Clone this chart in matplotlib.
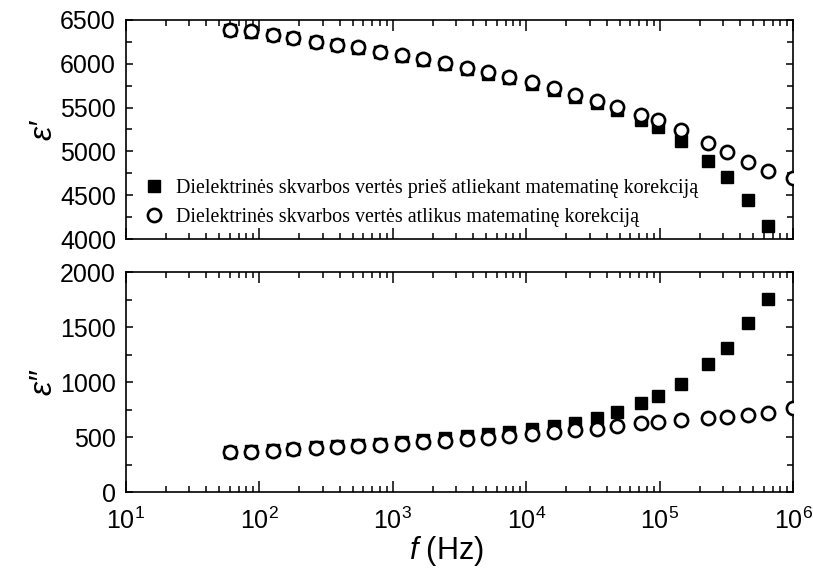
import matplotlib
matplotlib.use("Agg")
import matplotlib.pyplot as plt
from matplotlib.ticker import LogLocator, MultipleLocator, NullFormatter, LogFormatterSciNotation
import numpy as np

plt.rcParams['font.family'] = ['Liberation Sans', 'DejaVu Sans']
plt.rcParams['mathtext.fontset'] = 'custom'
plt.rcParams['mathtext.rm'] = 'Liberation Sans'
plt.rcParams['mathtext.it'] = 'Liberation Sans:italic'

# frequencies (Hz)
freq = [60, 87, 126, 180, 265, 384, 551, 809, 1170, 1680, 2470, 3580, 5140, 7400,
        11000, 16200, 23300, 34000, 48000, 72000, 97000, 143000, 228000, 318000,
        459000, 647000, 1000000]

# real part, corrected (circles)
eps1_corr = [6385, 6366, 6328, 6290, 6251, 6213, 6187, 6136, 6099, 6049, 6010, 5953,
             5900, 5851, 5792, 5717, 5648, 5575, 5506, 5419, 5353, 5239, 5093, 4990,
             4875, 4780, 4703]
# real part, before correction (squares)
eps1_raw = [6383, 6364, 6326, 6287, 6248, 6209, 6182, 6130, 6091, 6040, 5998, 5938,
            5882, 5832, 5770, 5695, 5620, 5556, 5468, 5361, 5277, 5124, 4894, 4714,
            4447, 4152]

# imaginary part, corrected (circles)
eps2_corr = [362, 367, 378, 392, 402, 410, 422, 428, 440, 453, 468, 483, 497, 512,
             534, 548, 570, 580, 603, 626, 640, 656, 671, 686, 701, 717, 762]
# imaginary part, before correction (squares)
eps2_raw = [366, 372, 384, 398, 410, 420, 434, 442, 458, 474, 492, 510, 528, 549,
            573, 604, 631, 671, 726, 808, 874, 989, 1162, 1313, 1535, 1755]

label_raw = "Dielektrinės skvarbos vertės prieš atliekant matematinę korekciją"
label_corr = "Dielektrinės skvarbos vertės atlikus matematinę korekciją"

W, H = 813, 574
fig = plt.figure(figsize=(W / 100, H / 100), dpi=100)

def fx(px):
    return px / W

def fy(py):
    return 1 - py / H

left, right = 125.7, 793.3
ax1 = fig.add_axes([fx(left), fy(239.3), fx(right - left), (239.3 - 19.7) / H])
ax2 = fig.add_axes([fx(left), fy(492.3), fx(right - left), (492.3 - 272.3) / H])

sq_kw = dict(marker='s', linestyle='none', color='black', markersize=9, zorder=2)
ci_kw = dict(marker='o', linestyle='none', markerfacecolor='white',
             markeredgecolor='black', markeredgewidth=1.9, markersize=9.5, zorder=3)

ax1.plot(freq[:len(eps1_raw)], eps1_raw, label=label_raw, **sq_kw)
ax1.plot(freq, eps1_corr, label=label_corr, **ci_kw)
ax2.plot(freq[:len(eps2_raw)], eps2_raw, **sq_kw)
ax2.plot(freq, eps2_corr, **ci_kw)

for ax in (ax1, ax2):
    ax.set_xscale('log')
    ax.set_xlim(10, 1e6)
    ax.xaxis.set_major_locator(LogLocator(base=10, numticks=10))
    ax.xaxis.set_minor_locator(LogLocator(base=10, subs=np.arange(2, 10), numticks=20))
    ax.xaxis.set_minor_formatter(NullFormatter())
    ax.tick_params(which='both', direction='in', top=True, right=True,
                   labelsize=18, width=1.1, color='black')
    ax.tick_params(axis='x', which='major', length=8)
    ax.tick_params(axis='x', which='minor', length=4.5)
    ax.tick_params(axis='y', which='major', length=5, pad=7)
    ax.tick_params(axis='y', which='minor', length=4.5)
    for s in ax.spines.values():
        s.set_linewidth(1.2)

ax1.set_ylim(4000, 6500)
ax1.yaxis.set_major_locator(MultipleLocator(500))
ax1.yaxis.set_minor_locator(MultipleLocator(250))
ax1.tick_params(axis='x', labelbottom=False)

ax2.set_ylim(0, 2000)
ax2.yaxis.set_major_locator(MultipleLocator(500))
ax2.yaxis.set_minor_locator(MultipleLocator(250))
ax2.xaxis.set_major_formatter(LogFormatterSciNotation())
ax2.tick_params(axis='x', pad=11)

fig.text(fx(446), fy(551), r"$f$ (Hz)", ha='center', va='center', fontsize=22)
fig.text(fx(43), fy(130), "ε′", rotation=90, ha='center', va='center',
         fontsize=23, style='italic')
fig.text(fx(43), fy(382), "ε″", rotation=90, ha='center', va='center',
         fontsize=23, style='italic')

leg = ax1.legend(loc='upper left', bbox_to_anchor=(fx(142), fy(179)),
                 bbox_transform=fig.transFigure, frameon=False,
                 prop={'family': 'Liberation Serif', 'size': 14.4},
                 handletextpad=0.5, labelspacing=0.5, borderpad=0, borderaxespad=0,
                 handlelength=1.2)

fig.savefig("out.png", dpi=100)
